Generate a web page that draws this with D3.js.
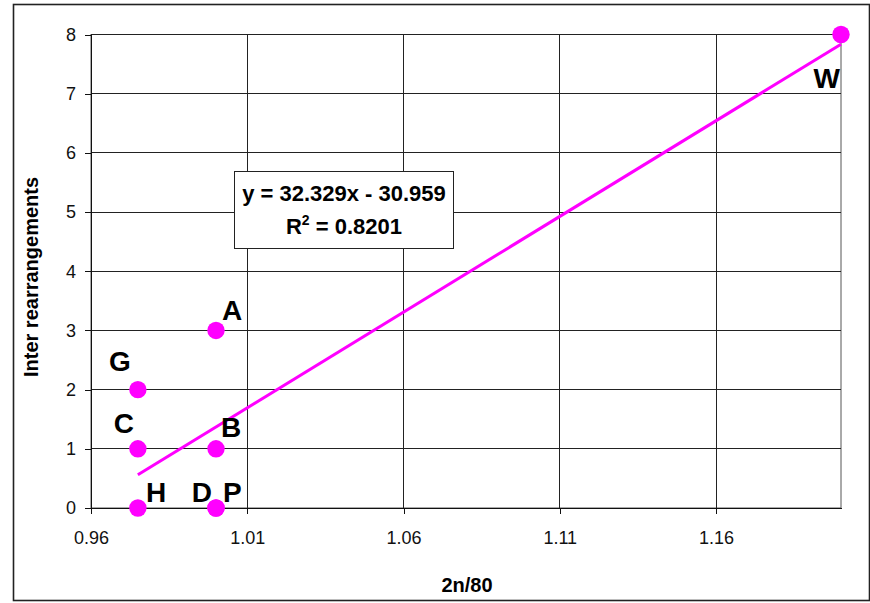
<!DOCTYPE html>
<html>
<head>
<meta charset="utf-8">
<script src="https://cdn.jsdelivr.net/npm/d3@7"></script>
<style>
  html, body { margin: 0; padding: 0; background: #fff; }
  svg { display: block; font-family: "Liberation Sans", Arial, sans-serif; }
</style>
</head>
<body>
<svg id="chart" width="870" height="603"></svg>
<script>
// Species samples: x = 2n/80, y = inter-chromosomal rearrangements
const names = ["H", "C", "G", "A", "B", "D", "P", "W"];
const xValues = [0.975, 0.975, 0.975, 1.0, 1.0, 1.0, 1.0, 1.2];
const yValues = [0, 1, 2, 3, 1, 0, 0, 8];

const xTicks = [0.96, 1.01, 1.06, 1.11, 1.16];
const yTicks = [0, 1, 2, 3, 4, 5, 6, 7, 8];
const xDomain = [0.96, 1.2];
const yDomain = [0, 8];

// Linear trend as reported in the equation box
const slope = 32.329;
const intercept = -30.959;
const rSquared = "0.8201";

// label placement around each marker (offset from the marker centre)
const labelPlacement = {
  H: { dx: 8,  dy: -6,  anchor: "start" },
  C: { dx: -14, dy: -16, anchor: "middle" },
  G: { dx: -18, dy: -19, anchor: "middle" },
  A: { dx: 6,  dy: -10, anchor: "start" },
  B: { dx: 5,  dy: -12, anchor: "start" },
  D: { dx: -4, dy: -6,  anchor: "end" },
  P: { dx: 7,  dy: -6,  anchor: "start" },
  W: { dx: -1, dy: 53,  anchor: "end" }
};

const points = names.map((n, i) => ({ name: n, x: xValues[i], y: yValues[i] }));

const svg = d3.select("#chart");
const plot = { left: 91, right: 841, top: 34.5, bottom: 508 };

const x = d3.scaleLinear().domain(xDomain).range([plot.left, plot.right]);
const y = d3.scaleLinear().domain(yDomain).range([plot.bottom, plot.top]);

// chart frame
svg.append("rect")
  .attr("x", 13.5).attr("y", 4.5)
  .attr("width", 856).attr("height", 596)
  .attr("fill", "#fff").attr("stroke", "#222").attr("stroke-width", 1.6);

// plot area
svg.append("rect")
  .attr("x", plot.left).attr("y", plot.top)
  .attr("width", plot.right - plot.left).attr("height", plot.bottom - plot.top)
  .attr("fill", "#fff").attr("stroke", "#555").attr("stroke-width", 1);

// gridlines
const grid = svg.append("g").attr("stroke", "#222").attr("stroke-width", 1)
  .attr("shape-rendering", "crispEdges");
grid.selectAll(".hg").data(yTicks).join("line")
  .attr("x1", plot.left).attr("x2", plot.right)
  .attr("y1", d => y(d)).attr("y2", d => y(d));
grid.selectAll(".vg").data(xTicks).join("line")
  .attr("x1", d => x(d)).attr("x2", d => x(d))
  .attr("y1", plot.top).attr("y2", plot.bottom);

// axes
const yAxis = svg.append("g")
  .attr("transform", `translate(${plot.left},0)`)
  .call(d3.axisLeft(y).tickValues(yTicks).tickFormat(d3.format("d"))
        .tickSizeInner(6).tickSizeOuter(0).tickPadding(9));
const xAxis = svg.append("g")
  .attr("transform", `translate(0,${plot.bottom})`)
  .call(d3.axisBottom(x).tickValues(xTicks).tickFormat(d3.format(".2f"))
        .tickSizeInner(6).tickSizeOuter(0).tickPadding(17));
[xAxis, yAxis].forEach(ax => {
  ax.select(".domain").attr("stroke", "#111").attr("shape-rendering", "crispEdges");
  ax.selectAll(".tick line").attr("stroke", "#111").attr("shape-rendering", "crispEdges");
  ax.selectAll(".tick text")
    .attr("fill", "#111")
    .style("font-family", "'Liberation Sans', Arial, sans-serif")
    .style("font-size", "18px");
});

// axis titles
svg.append("text")
  .attr("x", 467).attr("y", 592)
  .attr("text-anchor", "middle")
  .style("font-size", "20px").style("font-weight", "bold")
  .text("2n/80");
svg.append("text")
  .attr("transform", "translate(38,277) rotate(-90)")
  .attr("text-anchor", "middle")
  .style("font-size", "20px").style("font-weight", "bold")
  .text("Inter rearrangements");

// trendline across the data's x extent
const xExt = d3.extent(xValues);
svg.append("line")
  .attr("x1", x(xExt[0])).attr("y1", y(slope * xExt[0] + intercept))
  .attr("x2", x(xExt[1])).attr("y2", y(slope * xExt[1] + intercept))
  .attr("stroke", "#ff00ff").attr("stroke-width", 3);

// markers
svg.append("g").selectAll("circle").data(points).join("circle")
  .attr("cx", d => x(d.x)).attr("cy", d => y(d.y)).attr("r", 8.7)
  .attr("fill", "#ff00ff");

// point labels
svg.append("g").selectAll("text").data(points).join("text")
  .attr("x", d => x(d.x) + labelPlacement[d.name].dx)
  .attr("y", d => y(d.y) + labelPlacement[d.name].dy)
  .attr("text-anchor", d => labelPlacement[d.name].anchor)
  .style("font-size", "28px").style("font-weight", "bold")
  .attr("fill", "#000")
  .text(d => d.name);

// equation box
const eq = svg.append("g");
eq.append("rect")
  .attr("x", 234.5).attr("y", 171.5).attr("width", 219).attr("height", 77)
  .attr("fill", "#fff").attr("stroke", "#222").attr("stroke-width", 1);
const fmt = d3.format(".3f");
eq.append("text")
  .attr("x", 344).attr("y", 201)
  .attr("text-anchor", "middle")
  .style("font-size", "22px").style("font-weight", "bold")
  .text(`y = ${fmt(slope)}x ${intercept < 0 ? "-" : "+"} ${fmt(Math.abs(intercept))}`);
const r2 = eq.append("text")
  .attr("x", 344).attr("y", 234)
  .attr("text-anchor", "middle")
  .style("font-size", "22px").style("font-weight", "bold");
r2.append("tspan").text("R");
r2.append("tspan").attr("dy", -9).style("font-size", "14px").text("2");
r2.append("tspan").attr("dy", 9).text(` = ${rSquared}`);
</script>
</body>
</html>
